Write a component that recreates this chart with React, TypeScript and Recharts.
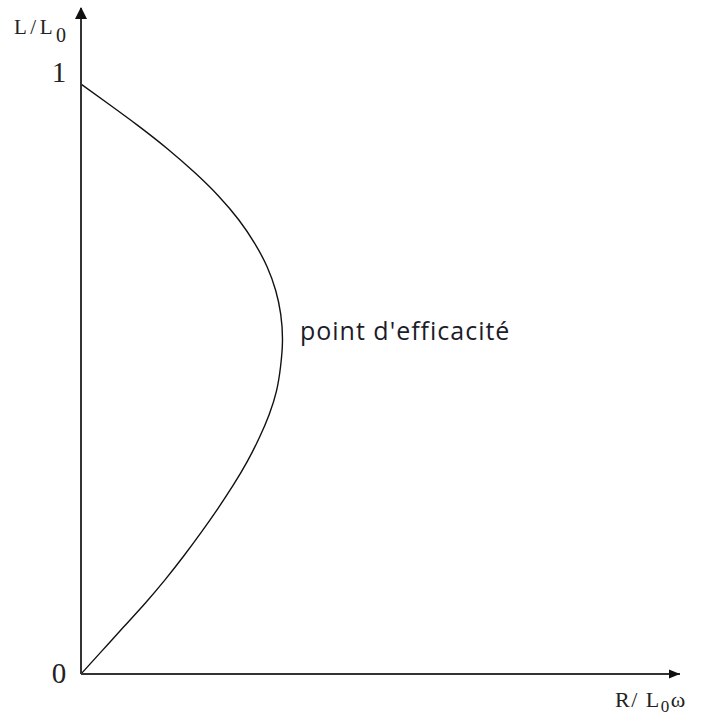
import React from "react";
import { LineChart, Line, XAxis, YAxis, ReferenceDot, Label } from "recharts";

// Normalised resistance R / (L0·ω), from the origin up the lower branch to L/L0 = 1
const resistance = [
  0, 0.0363, 0.0725, 0.1088, 0.1427, 0.1741, 0.2037, 0.2317, 0.258, 0.2817,
  0.302, 0.319, 0.3314, 0.3381, 0.3415, 0.3385, 0.33, 0.3156, 0.2944, 0.2673,
  0.2334, 0.1927, 0.1469, 0.0961, 0.0486, 0,
];
// Normalised inductance L / L0 for each resistance value
const inductance = [
  0, 0.04, 0.08, 0.12, 0.16, 0.2, 0.24, 0.28, 0.32, 0.36,
  0.4, 0.44, 0.48, 0.52, 0.565, 0.61, 0.65, 0.69, 0.73, 0.77,
  0.81, 0.85, 0.89, 0.93, 0.965, 1,
];
const yTicks = [0, 1];
const xMax = 1.0153;
const yMax = 1.129;
const efficiencyPoint = { x: 0.3415, y: 0.565, text: "point d'efficacité" };

const data = resistance.map((x, i) => ({ x, y: inductance[i] }));

const AXIS = "#333";
const SERIF = "'Liberation Serif', 'DejaVu Serif', serif";

const YTick = (props: any) => {
  const { y, payload } = props;
  const dy = payload.value === 1 ? -2 : 9;
  return (
    <text x={59} y={y + dy} textAnchor="middle" fontFamily={SERIF} fontSize={29} fill="#222">
      {payload.value}
    </text>
  );
};

const ArrowUp = (props: any) => {
  const { cx, cy } = props;
  return <path d={`M${cx},${cy - 1} L${cx - 6},${cy + 11} L${cx + 6},${cy + 11} Z`} fill="#111" />;
};

const ArrowRight = (props: any) => {
  const { cx, cy } = props;
  return <path d={`M${cx},${cy} L${cx - 11},${cy - 4.5} L${cx - 11},${cy + 4.5} Z`} fill="#111" />;
};

const YTitle = (props: any) => {
  const vb = props.viewBox;
  return (
    <text x={vb.x + 14} y={vb.y + 26} fontFamily={SERIF} fontSize={21} letterSpacing={3.5} fill="#222">
      L/L
      <tspan fontSize={20} dy={8} letterSpacing={0}>0</tspan>
    </text>
  );
};

const XTitle = (props: any) => {
  const vb = props.viewBox;
  return (
    <text x={vb.x + 534} y={vb.y + 33} fontFamily={SERIF} fontSize={22} letterSpacing={1.5} fill="#222">
      R/ L
      <tspan fontSize={17} dy={5}>0</tspan>
      <tspan dy={-5}>ω</tspan>
    </text>
  );
};

const PointLabel = (props: any) => {
  const vb = props.viewBox;
  return (
    <text
      x={vb.x + 17.5}
      y={vb.y - 1}
      fontFamily="'Open Sans', 'Noto Sans', sans-serif"
      fontSize={25}
      letterSpacing={1}
      fill="#1c1c2a"
    >
      {efficiencyPoint.text}
    </text>
  );
};

export default function App() {
  return (
    <div style={{ position: "absolute", left: 0, top: 0, background: "#fff" }}>
      <LineChart width={710} height={715} data={data} margin={{ top: 8, right: 30, bottom: 0, left: 0 }}>
        <XAxis
          dataKey="x"
          type="number"
          domain={[0, xMax]}
          allowDataOverflow
          height={41}
          tick={false}
          tickLine={false}
          axisLine={{ stroke: AXIS, strokeWidth: 2 }}
        >
          <Label content={<XTitle />} />
        </XAxis>
        <YAxis
          type="number"
          domain={[0, yMax]}
          allowDataOverflow
          width={81}
          ticks={yTicks}
          tick={<YTick />}
          tickLine={false}
          axisLine={{ stroke: AXIS, strokeWidth: 2 }}
        >
          <Label content={<YTitle />} />
        </YAxis>
        <Line
          dataKey="y"
          type="natural"
          stroke="#111"
          strokeWidth={1.4}
          dot={false}
          isAnimationActive={false}
        />
        <ReferenceDot x={0} y={yMax} r={0} shape={<ArrowUp />} ifOverflow="visible" />
        <ReferenceDot x={xMax} y={0} r={0} shape={<ArrowRight />} ifOverflow="visible" />
        <ReferenceDot
          x={efficiencyPoint.x}
          y={efficiencyPoint.y}
          r={0}
          fill="none"
          stroke="none"
          ifOverflow="visible"
        >
          <Label content={<PointLabel />} />
        </ReferenceDot>
      </LineChart>
    </div>
  );
}
